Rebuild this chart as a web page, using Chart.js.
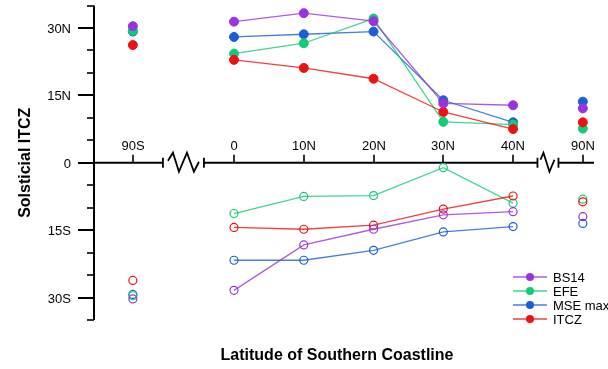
<!DOCTYPE html>
<html>
<head>
<meta charset="utf-8">
<script src="https://cdn.jsdelivr.net/npm/chart.js@4"></script>
<style>
  html, body { margin: 0; padding: 0; background: #fff; }
  canvas { display: block; }
</style>
</head>
<body>
<canvas id="itczChart" width="608" height="369"></canvas>
<script>
// categories along the (broken) x axis
const categories = ['90S', '0', '10N', '20N', '30N', '40N', '90N'];
// where each category sits on the broken axis
const slots = [-14.5, 0, 10, 20, 30, 40, 50];

// northern (solstice) extremes, filled markers
const bs14North = [30.4, 31.4, 33.3, 31.5, 13.2, 12.8, 12.1];
const efeNorth = [29.4, 24.3, 26.6, 32.1, 9.1, 8.5, 7.6];
const mseNorth = [29.2, 28.0, 28.6, 29.2, 13.9, 9.0, 13.6];
const itczNorth = [26.2, 22.9, 21.1, 18.7, 11.3, 7.5, 9.0];

// southern extremes, open markers
const bs14South = [-30.3, -28.4, -18.3, -14.8, -11.6, -10.9, -12.0];
const efeSouth = [-29.6, -11.3, -7.5, -7.3, -1.1, -9.0, -8.1];
const mseSouth = [-29.3, -21.7, -21.7, -19.5, -15.4, -14.2, -13.5];
const itczSouth = [-26.2, -14.4, -14.8, -13.9, -10.3, -7.4, -8.7];

const yTickValues = [-30, -15, 0, 15, 30];
const yTickLabels = ['30S', '15S', '0', '15N', '30N'];
const seriesNames = ['BS14', 'EFE', 'MSE max', 'ITCZ'];

const COLORS = {
    bs14: '#9933DD',
    efe: '#11CC77',
    mse: '#1A5FD6',
    itcz: '#EE1111',
};
const LINES = {
    bs14: 'rgba(153, 51, 221, 0.8)',
    efe: 'rgba(17, 204, 119, 0.8)',
    mse: 'rgba(26, 95, 214, 0.8)',
    itcz: 'rgba(238, 17, 17, 0.8)',
};

const FONT = '"Liberation Sans", Arial, Helvetica, sans-serif';

function toPoints(values) {
    return values.map((v, i) => ({ x: slots[i], y: v }));
}

// hide the segments that cross the axis breaks
function hideBreaks(color) {
    return (ctx) => (ctx.p0DataIndex === 0 || ctx.p1DataIndex === categories.length - 1) ? 'rgba(0,0,0,0)' : color;
}

function makeSeries(key, values, filled, order) {
    return {
        label: key,
        data: toPoints(values),
        borderColor: LINES[key],
        borderWidth: 1.3,
        pointBorderColor: COLORS[key],
        pointBackgroundColor: filled ? COLORS[key] : 'rgba(255,255,255,0)',
        pointBorderWidth: filled ? 1 : 1.2,
        pointRadius: filled ? 4.5 : 4,
        pointHoverRadius: filled ? 4.5 : 4,
        showLine: true,
        tension: 0,
        order: order,
        segment: { borderColor: hideBreaks(LINES[key]) },
    };
}

function line(ctx, x1, y1, x2, y2) {
    ctx.beginPath();
    ctx.moveTo(x1, y1);
    ctx.lineTo(x2, y2);
    ctx.stroke();
}

function drawBreak(ctx, cx, cy, half, zig) {
    line(ctx, cx - half, cy - 5, cx - half, cy + 5);
    line(ctx, cx + half, cy - 5, cx + half, cy + 5);
    ctx.beginPath();
    zig.forEach(([dx, dy], i) => {
        if (i === 0) ctx.moveTo(cx + dx, cy + dy);
        else ctx.lineTo(cx + dx, cy + dy);
    });
    ctx.stroke();
}

const axesPlugin = {
    id: 'brokenAxes',
    beforeDatasetsDraw(chart) {
        const { ctx, scales: { x, y } } = chart;
        const x0 = x.left;
        const y0 = y.getPixelForValue(0);
        ctx.save();
        ctx.strokeStyle = '#000';
        ctx.fillStyle = '#000';
        ctx.lineCap = 'butt';

        // y axis with major / minor ticks
        ctx.lineWidth = 2;
        line(ctx, x0, y.top, x0, y.bottom);
        ctx.font = '13px ' + FONT;
        ctx.textAlign = 'right';
        ctx.textBaseline = 'middle';
        y.ticks.forEach((t) => {
            const py = Math.round(y.getPixelForValue(t.value));
            const idx = yTickValues.indexOf(t.value);
            if (idx >= 0) {
                ctx.lineWidth = 2;
                line(ctx, x0 - 16, py, x0, py);
                ctx.fillText(yTickLabels[idx], x0 - 23, py + 1);
            } else {
                ctx.lineWidth = 1.6;
                line(ctx, x0 - 7, py, x0, py);
            }
        });

        // x axis drawn along the zero line, with two breaks
        const b1 = x.getPixelForValue((slots[0] + slots[1]) / 2);
        const b2 = x.getPixelForValue((slots[5] + slots[6]) / 2);
        ctx.lineWidth = 2;
        line(ctx, x0, y0, b1 - 20.5, y0);
        line(ctx, b1 + 20.5, y0, b2 - 10.5, y0);
        line(ctx, b2 + 10.5, y0, x.right, y0);
        ctx.lineWidth = 1.8;
        drawBreak(ctx, b1, y0, 20.5, [[-15.5, -2], [-10.5, -10], [-4.5, 9], [3.5, -10], [10.5, 9], [15.5, -1]]);
        drawBreak(ctx, b2, y0, 10.5, [[-7.5, -3], [-4.5, -10], [1.5, 9], [6.5, -3]]);

        ctx.textAlign = 'center';
        ctx.textBaseline = 'middle';
        categories.forEach((c, i) => {
            const px = Math.round(x.getPixelForValue(slots[i]));
            ctx.lineWidth = 1.6;
            line(ctx, px, y0 - 8, px, y0);
            ctx.fillText(c, px, y0 - 16);
        });

        // axis titles
        ctx.font = 'bold 16px ' + FONT;
        ctx.fillText('Latitude of Southern Coastline', 337, 356);
        ctx.save();
        ctx.translate(26, y0);
        ctx.rotate(-Math.PI / 2);
        ctx.fillText('Solsticial ITCZ', 0, 0);
        ctx.restore();
        ctx.restore();
    },
    afterDraw(chart) {
        const { ctx } = chart;
        const keys = ['bs14', 'efe', 'mse', 'itcz'];
        ctx.save();
        ctx.font = '13px ' + FONT;
        ctx.textAlign = 'left';
        ctx.textBaseline = 'middle';
        keys.forEach((k, i) => {
            const ly = 277 + i * 14;
            ctx.strokeStyle = LINES[k];
            ctx.lineWidth = 1.5;
            line(ctx, 513, ly, 547, ly);
            ctx.fillStyle = COLORS[k];
            ctx.beginPath();
            ctx.arc(530, ly, 4, 0, Math.PI * 2);
            ctx.fill();
            ctx.fillStyle = '#000';
            ctx.fillText(seriesNames[i], 553, ly + 1);
        });
        ctx.restore();
    },
};

new Chart(document.getElementById('itczChart').getContext('2d'), {
    type: 'scatter',
    data: {
        datasets: [
            makeSeries('bs14', bs14North, true, 0),
            makeSeries('itcz', itczNorth, true, 1),
            makeSeries('efe', efeNorth, true, 2),
            makeSeries('mse', mseNorth, true, 3),
            makeSeries('bs14', bs14South, false, 4),
            makeSeries('itcz', itczSouth, false, 5),
            makeSeries('efe', efeSouth, false, 6),
            makeSeries('mse', mseSouth, false, 7),
        ],
    },
    options: {
        responsive: false,
        animation: false,
        layout: { padding: { left: 94, right: 14, top: 5, bottom: 49 } },
        plugins: {
            legend: { display: false },
            tooltip: { enabled: false },
        },
        scales: {
            x: { type: 'linear', min: -20.07, max: 51.6, display: false },
            y: { type: 'linear', min: -35, max: 35, display: false, ticks: { stepSize: 5 } },
        },
    },
    plugins: [axesPlugin],
});
</script>
</body>
</html>
